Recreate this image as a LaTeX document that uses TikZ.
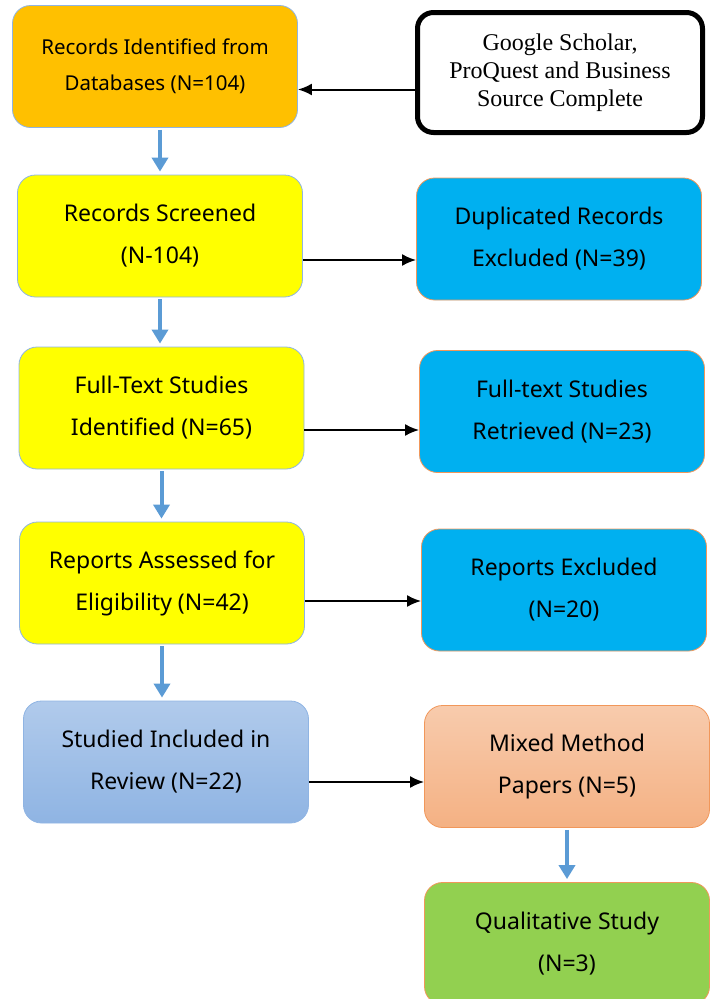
\documentclass[tikz,border=0pt]{standalone}
\usepackage{fontspec}
\setmainfont{Noto Sans}
\newfontfamily\srcfont{Liberation Serif}
\usetikzlibrary{arrows.meta,positioning,calc}
\definecolor{flowblue}{HTML}{5B9BD5}
\definecolor{edgeblue}{HTML}{8FB4E3}
\definecolor{edgeorange}{HTML}{ED7D31}
\definecolor{idorange}{HTML}{FFC000}
\definecolor{scyellow}{HTML}{FFFF00}
\definecolor{exblue}{HTML}{00B0F0}
\definecolor{qualgreen}{HTML}{92D050}
\tikzset{
  box/.style={rounded corners=18pt, align=center, minimum width=285pt, minimum height=122pt, inner sep=0pt, line width=0.8pt, font=\fontsize{23}{42}\selectfont},
  leftbox/.style={box, draw=edgeblue},
  rightbox/.style={box, draw=edgeorange!80},
  sourcebox/.style={draw=black, line width=5pt, rounded corners=16pt, minimum width=285pt, minimum height=120pt, align=center, inner sep=0pt, font=\srcfont\fontsize{24}{28}\selectfont},
  arrow/.style={-{Latex[length=14pt,width=12pt]}, line width=2pt},
  flowarrow/.style={draw=flowblue, -{Triangle[length=14pt,width=16pt]}, line width=4pt, shorten >=3pt, shorten <=2pt},
}
\begin{document}
\begin{tikzpicture}[x=1pt,y=-1pt]
\useasboundingbox (0,0) rectangle (712,999);
% left column
\node[leftbox, fill=idorange, font=\fontsize{20.5}{36}\selectfont] (id) at (155,66.5) {Records Identified from\\Databases (N=104)};
\node[leftbox, fill=scyellow] (sc) at (160,236) {Records Screened\\(N-104)};
\node[leftbox, fill=scyellow] (ft) at (161.5,408) {Full-Text Studies\\Identified (N=65)};
\node[leftbox, fill=scyellow] (ra) at (162,583) {Reports Assessed for\\Eligibility (N=42)};
\node[leftbox, top color=edgeblue!70, bottom color=edgeblue] (inc) at (166,762) {Studied Included in\\Review (N=22)};
% right column
\node[sourcebox] (src) at (560,72.5) {Google Scholar,\\ProQuest and Business\\Source Complete};
\node[rightbox, fill=exblue] (dup) at (559,239) {Duplicated Records\\Excluded (N=39)};
\node[rightbox, fill=exblue] (ret) at (562,411.5) {Full-text Studies\\Retrieved (N=23)};
\node[rightbox, fill=exblue] (rex) at (564,590) {Reports Excluded\\(N=20)};
\node[rightbox, top color=edgeorange!40, bottom color=edgeorange!60] (mix) at (567,766.5) {Mixed Method\\Papers (N=5)};
\node[rightbox, fill=qualgreen] (qual) at (567,943.5) {Qualitative Study\\(N=3)};
% flow down
\draw[flowarrow] (id.south -| sc.north) -- (sc.north);
\draw[flowarrow] (sc.south) -- (sc.south |- ft.north);
\draw[flowarrow] (ft.south) -- (ft.south |- ra.north);
\draw[flowarrow] (ra.south) -- (ra.south |- inc.north);
\draw[flowarrow] (mix.south) -- (qual.north);
% side arrows
\draw[arrow] ([yshift=-17pt]src.west) -- ([yshift=-17pt]src.west -| id.east);
\draw[arrow] ([yshift=-24pt]sc.east) -- ([yshift=-24pt]sc.east -| dup.west);
\draw[arrow] ([yshift=-22pt]ft.east) -- ([yshift=-22pt]ft.east -| ret.west);
\draw[arrow] ([yshift=-18pt]ra.east) -- ([yshift=-18pt]ra.east -| rex.west);
\draw[arrow] ([yshift=-20pt]inc.east) -- ([yshift=-20pt]inc.east -| mix.west);
\end{tikzpicture}
\end{document}
